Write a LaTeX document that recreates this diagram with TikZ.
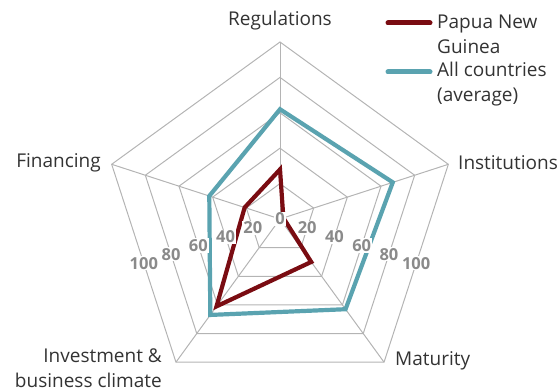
\documentclass[tikz,border=0pt]{standalone}
\usepackage{fontspec}
\setmainfont{Open Sans}
\definecolor{gridc}{HTML}{B4B4B4}
\definecolor{pngred}{HTML}{7A0C12}
\definecolor{avgteal}{HTML}{5AA3B0}
\definecolor{txtc}{HTML}{333333}
\definecolor{tickc}{HTML}{8A8A8A}
\tikzset{
  gridline/.style={draw=gridc, line width=1pt},
  series/.style={line width=4.2pt, line join=miter},
  axislabel/.style={text=txtc, font=\fontsize{19}{25}\selectfont, inner sep=0pt},
  ticklabel/.style={text=tickc, font=\bfseries\fontsize{16.5}{16.5}\selectfont, fill=white, inner sep=1pt},
  legline/.style={line width=5pt, line cap=round},
}
\begin{document}
\begin{tikzpicture}[x=1pt,y=1pt]
\useasboundingbox (0,0) rectangle (560,391);
\def\R{177}
\begin{scope}[shift={(280,172)}]
  \coordinate (c) at (0,0);
  % grid rings
  \foreach \k in {1,...,5}{
    \draw[gridline] (90:\k/5*\R) -- (18:\k/5*\R) -- (-54:\k/5*\R) -- (-126:\k/5*\R) -- (162:\k/5*\R) -- cycle;
  }
  % spokes
  \foreach \a/\n in {90/reg,18/ins,-54/mat,-126/inv,162/fin}{
    \coordinate (\n) at (\a:\R);
    \draw[gridline] (c) -- (\n);
  }
  % series
  \draw[series, avgteal] (90:0.62*\R) -- (18:0.67*\R) -- (-54:0.63*\R) -- (-126:0.67*\R) -- (162:0.42*\R) -- cycle;
  \draw[series, pngred] (90:0.28*\R) -- (18:0.02*\R) -- (-54:0.30*\R) -- (-126:0.61*\R) -- (162:0.21*\R) -- cycle;
  % tick labels
  \node[ticklabel] (t0) at (c) {0};
  \foreach \v in {20,40,60,80,100}{
    \node[ticklabel] (tr\v) at (-18:\v/100*\R*0.809) {\v};
    \node[ticklabel] (tl\v) at (198:\v/100*\R*0.809) {\v};
  }
\end{scope}
% axis labels
\node[axislabel] (lreg) at (280,370) {Regulations};
\node[axislabel, anchor=west] (lins) at (458,228) {Institutions};
\node[axislabel, anchor=east] (lfin) at (101,228) {Financing};
\node[axislabel, anchor=west] (lmat) at (395,30) {Maturity};
\node[axislabel, anchor=east, align=right] (linv) at (162,22.5) {Investment \&\\business climate};
% legend
\coordinate (lr1) at (388,368);
\coordinate (lr2) at (430,368);
\coordinate (lt1) at (388,319);
\coordinate (lt2) at (430,319);
\draw[legline, pngred] (lr1) -- (lr2);
\draw[legline, avgteal] (lt1) -- (lt2);
\node[axislabel, anchor=west, align=left] (legr) at (437,356.5) {Papua New\\Guinea};
\node[axislabel, anchor=west, align=left] (legt) at (437,306.5) {All countries\\(average)};
\end{tikzpicture}
\end{document}
